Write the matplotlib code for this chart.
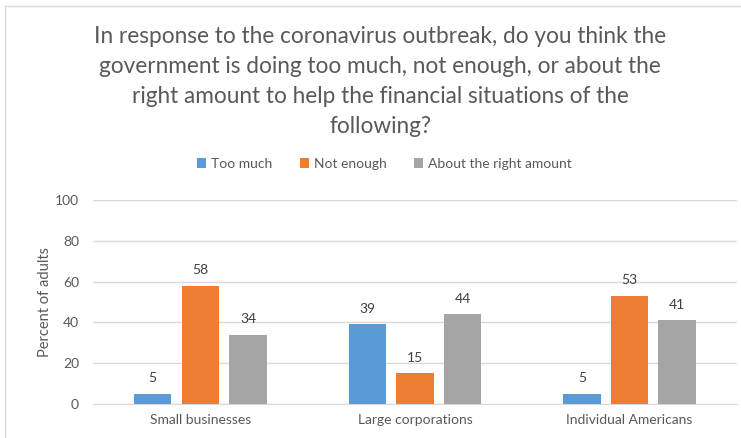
import matplotlib
matplotlib.use('Agg')
import matplotlib.pyplot as plt
import numpy as np
from matplotlib.lines import Line2D

# Data
categories = ['Small businesses', 'Large corporations', 'Individual Americans']
series_names = ['Too much', 'Not enough', 'About the right amount']
too_much = [5, 39, 5]
not_enough = [58, 15, 53]
about_right = [34, 44, 41]
colors = ['#5B9BD5', '#ED7D31', '#A5A5A5']
yticks = [0, 20, 40, 60, 80, 100]

title = ('In response to the coronavirus outbreak, do you think the\n'
         'government is doing too much, not enough, or about the\n'
         'right amount to help the financial situations of the\n'
         'following?')

text_color = '#595959'
plt.rcParams['font.family'] = ['Lato', 'DejaVu Sans']

fig = plt.figure(figsize=(7.41, 4.38), dpi=100)
ax = fig.add_axes([0.1255, 0.0776, 0.869, 0.4658])

x = np.arange(len(categories))
width = 0.175
pitch = 0.222
all_series = [too_much, not_enough, about_right]
for i, (vals, name, c) in enumerate(zip(all_series, series_names, colors)):
    bars = ax.bar(x + (i - 1) * pitch, vals, width, color=c, label=name, zorder=3)
    for b, v in zip(bars, vals):
        ax.annotate(str(v), (b.get_x() + b.get_width() / 2, v),
                    xytext=(0, 7), textcoords='offset points',
                    ha='center', va='bottom', fontsize=10, color='#404040')

ax.set_xlim(-0.5, 2.5)
ax.set_ylim(0, 100)
ax.set_yticks(yticks)
ax.set_xticks(x)
ax.set_xticklabels(categories)
ax.tick_params(axis='both', length=0, colors=text_color, labelsize=10)
ax.tick_params(axis='y', pad=10)
ax.tick_params(axis='x', pad=7)
ax.yaxis.grid(True, color='#D9D9D9', linewidth=1, zorder=0)
for s in ['top', 'right', 'left']:
    ax.spines[s].set_visible(False)
ax.spines['bottom'].set_color('#D9D9D9')
ax.set_ylabel('Percent of adults', color=text_color, fontsize=10.5, labelpad=2)

fig.text(0.513, 0.94, title, ha='center', va='top', fontsize=16.3,
         color=text_color, linespacing=1.52)

ax.legend(loc='center', bbox_to_anchor=(0.519, 0.626), bbox_transform=fig.transFigure,
          ncol=3, frameon=False, fontsize=10, handlelength=0.65, handleheight=0.65,
          handletextpad=0.35, columnspacing=2.0, labelcolor=text_color)

# thin chart border on the left and top
fig.add_artist(Line2D([0.007, 0.007], [0, 0.986], color='#D9D9D9', lw=1))
fig.add_artist(Line2D([0.007, 1], [0.986, 0.986], color='#D9D9D9', lw=1))

plt.savefig('out.png', dpi=100)
plt.close()
